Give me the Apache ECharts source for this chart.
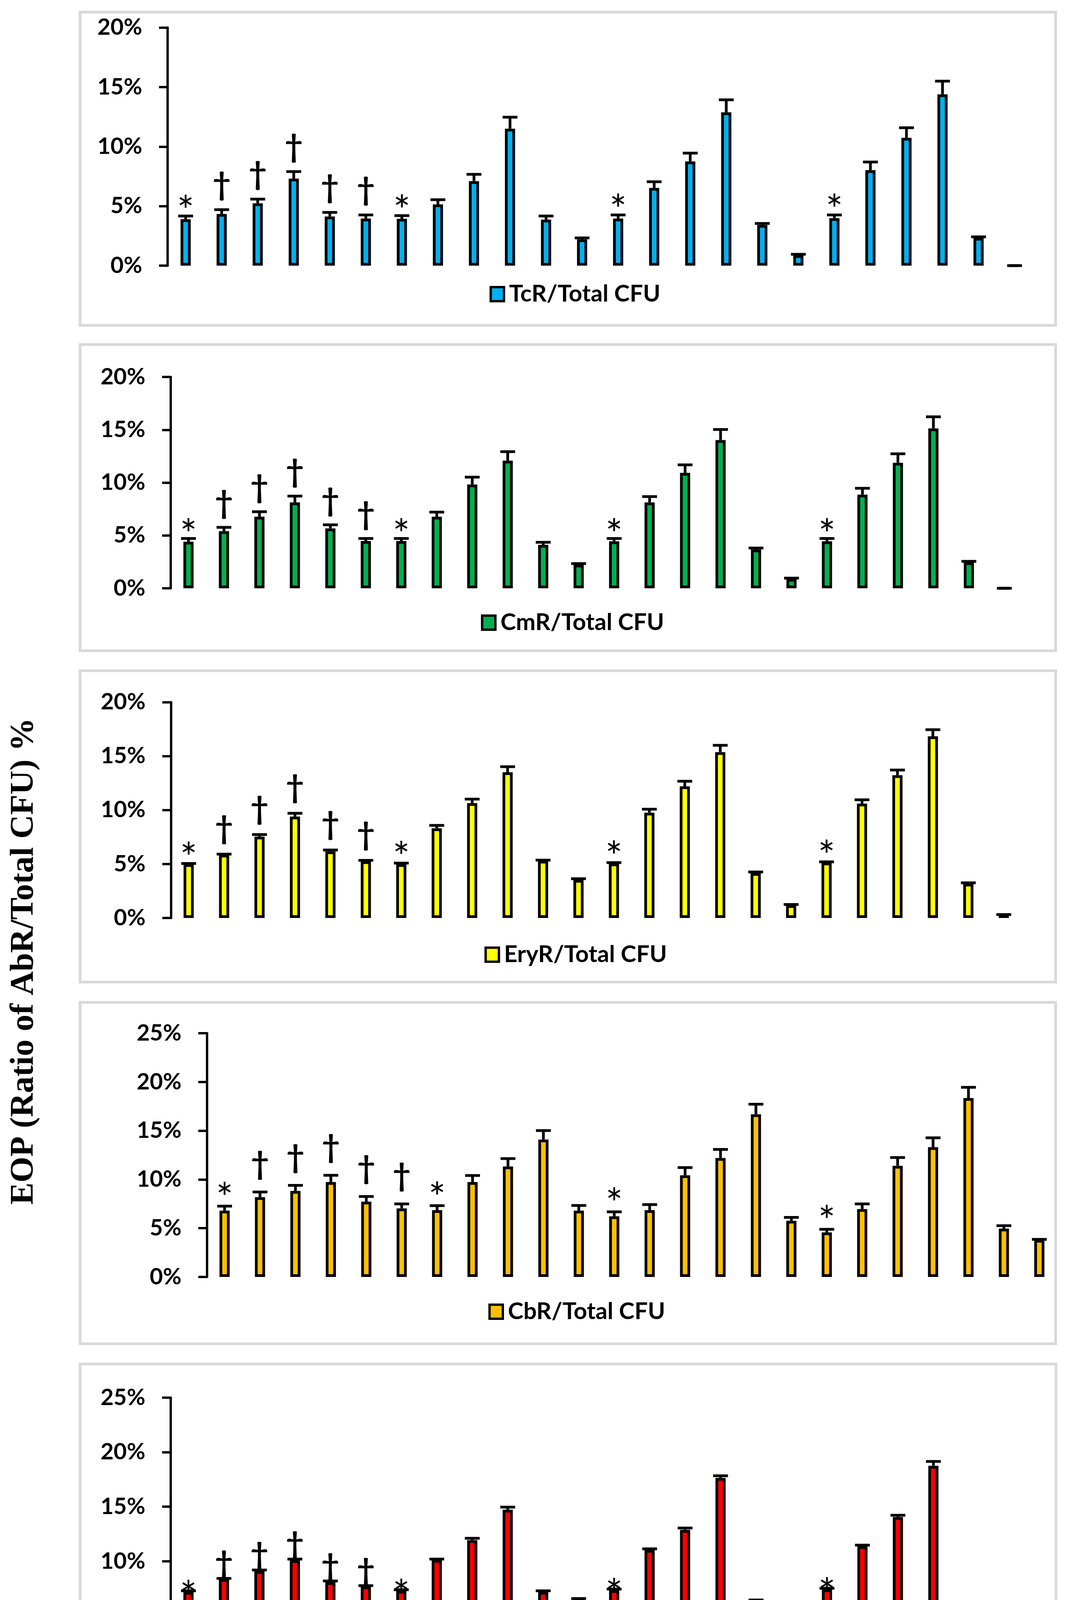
<!DOCTYPE html>
<html><head><meta charset="utf-8">
<script src="https://cdn.jsdelivr.net/npm/echarts@6/dist/echarts.min.js"></script>
<style>html,body{margin:0;padding:0;background:#fff}#c{width:2731px;height:4917px}</style>
</head><body><div id="c"></div>
<script>
// ---------- DATA ----------
const categories = [
  'Control','Cd 5 mM','Cd 10 mM','Cd 50 mM','Cd 100 mM','Cd 200 mM',
  'Control','Cd 5 mM','Cd 10 mM','Cd 50 mM','Cd 100 mM','Cd 200 mM',
  'Control','Cd 5 mM','Cd 10 mM','Cd 50 mM','Cd 100 mM','Cd 200 mM',
  'Control','Cd 5 mM','Cd 10 mM','Cd 50 mM','Cd 100 mM','Cd 200 mM'];
const groups = ['Time 0','2 Weeks','4 Weeks','6 Weeks'];
const yTicks20 = [0,5,10,15,20];
const yTicks25 = [0,5,10,15,20,25];

const tcrValues = [3.9,4.34,5.23,7.31,4.13,3.95, 3.94,5.14,7.1,11.5,3.86,2.21, 3.95,6.53,8.75,12.88,3.42,0.88, 3.99,8.02,10.74,14.39,2.34,0];
const tcrErrors = [0.27,0.36,0.36,0.59,0.34,0.31, 0.26,0.40,0.57,0.97,0.31,0.12, 0.31,0.52,0.70,1.05,0.12,0.07, 0.27,0.68,0.84,1.11,0.08,0];
const tcrMarks  = ['*','†','†','†','†','†','*','','','','','', '*','','','','','', '*','','','','',''];

const cmrValues = [4.41,5.41,6.77,8.12,5.67,4.47, 4.47,6.77,9.82,12.08,4.11,2.24, 4.45,8.12,10.92,14.03,3.67,0.9, 4.45,8.86,11.88,15.13,2.47,0];
const cmrErrors = [0.30,0.36,0.48,0.60,0.34,0.24, 0.24,0.44,0.70,0.85,0.24,0.10, 0.26,0.56,0.76,1.0,0.14,0.06, 0.26,0.60,0.85,1.1,0.08,0];
const cmrMarks  = ['*','†','†','†','†','†','*','','','','','', '*','','','','','', '*','','','','',''];

const eryValues = [4.99,5.86,7.54,9.39,6.17,5.26, 4.99,8.31,10.64,13.5,5.3,3.53, 5.05,9.76,12.2,15.37,4.16,1.19, 5.13,10.6,13.23,16.83,3.18,0.27];
const eryErrors = [0.06,0.06,0.19,0.31,0.13,0.08, 0.10,0.27,0.37,0.52,0.06,0.11, 0.08,0.32,0.47,0.63,0.10,0.06, 0.07,0.35,0.48,0.62,0.08,0.05];
const eryMarks  = ['*','†','†','†','†','†','*','','','','','', '*','','','','','', '*','','','','',''];

const cbrValues = [6.8,8.18,8.82,9.74,7.72,7.03, 6.85,9.74,11.33,14.09,6.8,6.22, 6.85,10.43,12.2,16.69,5.76,4.57, 6.96,11.4,13.31,18.35,4.96,3.81];
const cbrErrors = [0.46,0.53,0.58,0.69,0.53,0.46, 0.46,0.67,0.81,0.92,0.53,0.46, 0.57,0.79,0.88,1.03,0.35,0.32, 0.53,0.85,0.96,1.10,0.30,0.05];
const cbrMarks  = ['*','†','†','†','†','†','*','','','','','*', '','','','','','*', '','','','','',''];

const ampValues = [7.19,8.36,9.1,10.1,8.09,7.69, 7.29,10.13,11.94,14.73,7.19,6.52, 7.35,11.04,12.88,17.64,6.35,5.01, 7.42,11.37,14.06,18.75,5.41,3.9];
const ampErrors = [0.10,0.07,0.10,0.10,0.10,0.07, 0.10,0.07,0.17,0.23,0.10,0.06, 0.10,0.10,0.17,0.20,0.10,0.10, 0.10,0.11,0.16,0.40,0.10,0.10];
const ampMarks  = ['*','†','†','†','†','†','*','','','','','', '*','','','','','', '*','','','','',''];

// ---------- LAYOUT / STYLE ----------
const FONT = 'Lato';
const panels = [
  {name:'TcR/Total CFU', values:tcrValues, errors:tcrErrors, marks:tcrMarks, ticks:yTicks20, color:'#00B0F0',
   grid:{left:429, top:70.5, width:2214, height:609.5}, box:[205,31,2497,802], legend:{left:1253, cy:759}, gap:14},
  {name:'CmR/Total CFU', values:cmrValues, errors:cmrErrors, marks:cmrMarks, ticks:yTicks20, color:'#00B050',
   grid:{left:437, top:965, width:2179, height:541}, box:[205,882,2497,784], legend:{left:1231, cy:1600}, gap:12},
  {name:'EryR/Total CFU', values:eryValues, errors:eryErrors, marks:eryMarks, ticks:yTicks20, color:'#FFFF00',
   grid:{left:437.5, top:1797.5, width:2177, height:552.5}, box:[205,1717,2497,797], legend:{left:1240, cy:2450}, gap:16},
  {name:'CbR/Total CFU', values:cbrValues, errors:cbrErrors, marks:cbrMarks, ticks:yTicks25, color:'#FFC000',
   grid:{left:529.5, top:2645, width:2176, height:624}, box:[205,2566,2497,874], legend:{left:1250, cy:3364}, gap:22},
  {name:'AmpR/Total CFU', values:ampValues, errors:ampErrors, marks:ampMarks, ticks:yTicks25, color:'#FF0000',
   grid:{left:437, top:3578, width:2179, height:698}, box:[205,3492,2498,1396], legend:{left:1219, cy:4795}, gap:-12}
];
const glyph = {
  '*': {font:'104px Lato', dy:60},
  '†': {font:'bold 80px Lato', dy:-6}
};

function makeRender(p){
  return function(params, api){
    const i = api.value(0), v = api.value(1), e = api.value(2);
    const b = api.coord([i, v]), t = api.coord([i, v + e]);
    const ch = [];
    if (e > 0) ch.push({type:'line', shape:{x1:b[0], y1:b[1], x2:t[0], y2:t[1]}, style:{stroke:'#000', lineWidth:7}});
    ch.push({type:'line', shape:{x1:t[0]-19, y1:t[1], x2:t[0]+19, y2:t[1]}, style:{stroke:'#000', lineWidth:7}});
    const m = p.marks[params.dataIndex];
    if (m) {
      const g = glyph[m];
      const capTop = t[1] - 3.5;
      ch.push({type:'text', style:{text:m, x:t[0], y:capTop - p.gap + g.dy, align:'center', verticalAlign:'bottom', font:g.font, fill:'#000'}});
    }
    return {type:'group', children:ch};
  };
}

const labelStyle = {fontFamily:FONT, fontWeight:'bold', fontSize:58, color:'#000'};
const grid = [], xAxis = [], yAxis = [], series = [], legend = [], graphic = [];

panels.forEach((p, k) => {
  grid.push(Object.assign({containLabel:false}, p.grid));
  const last = k === panels.length - 1;
  xAxis.push(last ? {
    type:'category', gridIndex:k, data:categories, position:'bottom',
    axisLine:{show:true, lineStyle:{color:'#000', width:6}},
    axisTick:{show:true, interval:0, length:362, lineStyle:{color:'#000', width:5}},
    axisLabel:Object.assign({interval:0, rotate:90, margin:44}, labelStyle),
    splitLine:{show:false}
  } : {type:'category', gridIndex:k, data:categories, show:false});
  yAxis.push({
    type:'value', gridIndex:k, min:p.ticks[0], max:p.ticks[p.ticks.length-1], interval:p.ticks[1]-p.ticks[0],
    splitLine:{show:false},
    axisLine:{show:true, lineStyle:{color:'#000', width:6}},
    axisTick:{show:true, length:22, lineStyle:{color:'#000', width:6}},
    axisLabel:Object.assign({formatter:'{value}%', margin:65}, labelStyle)
  });
  series.push({
    type:'bar', name:p.name, xAxisIndex:k, yAxisIndex:k, data:p.values, barWidth:26,
    itemStyle:{color:p.color, borderColor:'#000', borderWidth:7}, z:2
  });
  series.push({
    type:'custom', xAxisIndex:k, yAxisIndex:k, z:3, clip:false,
    data:p.values.map((v, i) => [i, v, p.errors[i]]),
    renderItem:makeRender(p)
  });
  legend.push({
    data:[p.name], left:p.legend.left, top:p.legend.cy - 36, padding:0, icon:'rect',
    itemWidth:34, itemHeight:36, selectedMode:false,
    itemStyle:{borderColor:'#000', borderWidth:6},
    textStyle:Object.assign({padding:[0,0,0,8]}, labelStyle, {fontSize:60})
  });
  graphic.push({type:'rect', silent:true, z:-1,
    shape:{x:p.box[0], y:p.box[1], width:p.box[2], height:p.box[3]},
    style:{fill:'none', stroke:'#D9D9D9', lineWidth:7}});
});

xAxis.push({
  type:'category', gridIndex:4, data:groups, position:'bottom',
  axisLine:{show:false},
  axisTick:{show:true, interval:0, length:493, lineStyle:{color:'#000', width:5}},
  axisLabel:Object.assign({interval:0, margin:428}, labelStyle),
  splitLine:{show:false}
});

graphic.push({type:'text', silent:true, x:62, y:2461, rotation:Math.PI/2,
  style:{text:'EOP (Ratio of AbR/Total CFU) %', font:'bold 85px "Liberation Serif"', fill:'#000', align:'center', verticalAlign:'middle'}});

const chart = echarts.init(document.getElementById('c'), null, {renderer:'canvas'});
chart.setOption({backgroundColor:'#fff', animation:false, grid, xAxis, yAxis, series, legend, graphic});
</script></body></html>
